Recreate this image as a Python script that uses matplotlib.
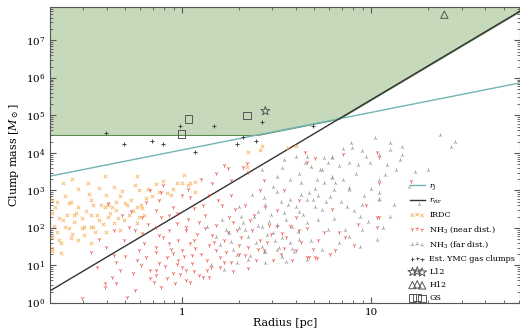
import numpy as np
import matplotlib
matplotlib.use("Agg")
import matplotlib.pyplot as plt
from matplotlib.ticker import FixedLocator, LogLocator, NullFormatter

#---------------------------------------------------------------------#
# donnees (log10 R [pc], log10 M [Msun])
irdc_logr = [-0.41, -0.24, -0.63, -0.55, -0.44, -0.40, -0.32, -0.23, -0.14, -0.16,
             -0.08, -0.03, 0.03, -0.69, -0.66, -0.60, -0.55, -0.47, -0.39, -0.35,
             -0.30, -0.24, -0.21, -0.69, -0.65, -0.61, -0.56, -0.53, -0.48, -0.44,
             -0.38, -0.34, -0.28, -0.62, -0.60, -0.53, -0.48, -0.46, -0.40, -0.36,
             -0.69, -0.65, -0.59, -0.55, -0.69, -0.69, -0.64, -0.59, -0.48, -0.41,
             -0.35, -0.22, -0.63, -0.57, -0.52, -0.47, -0.33, -0.24, -0.23, -0.64,
             -0.48, 0.00, 0.04, 0.07, -0.06, 0.07, 0.35, 0.41, 0.56, 0.42,
             0.60, 0.34, -0.67, -0.62, -0.57, -0.51, -0.49, -0.45, -0.42, -0.37,
             -0.33, -0.31, -0.27, -0.26, -0.19, -0.18, -0.12, -0.10, -0.05, -0.68,
             -0.66, -0.58, -0.52, -0.43, -0.39, -0.29, -0.25, -0.20, 0.01, -0.36,
             -0.50, -0.58]
irdc_logm = [3.39, 3.39, 3.20, 3.04, 3.07, 2.88, 2.99, 3.01, 3.17, 2.85,
             2.93, 3.20, 3.15, 2.75, 2.69, 2.67, 2.56, 2.61, 2.61, 2.69,
             2.67, 2.56, 2.53, 2.40, 2.27, 2.35, 2.40, 2.27, 2.35, 2.21,
             2.40, 2.27, 2.35, 2.03, 2.00, 2.00, 2.03, 1.89, 1.89, 2.13,
             1.76, 1.68, 1.73, 1.68, 1.47, 1.39, 1.33, 2.69, 2.75, 2.56,
             2.48, 2.61, 2.21, 2.35, 2.03, 2.03, 1.95, 2.13, 2.29, 1.60,
             1.60, 3.20, 3.20, 3.23, 2.88, 2.96, 4.03, 4.08, 4.13, 4.19,
             4.19, 3.62, 2.55, 2.85, 2.15, 2.45, 2.90, 2.35, 2.10, 2.55,
             2.85, 2.20, 2.75, 2.45, 2.80, 3.05, 2.95, 3.25, 3.05, 2.05,
             1.90, 1.85, 1.80, 2.60, 2.30, 2.60, 3.15, 2.35, 3.40, 3.10,
             3.20, 3.30]

near_logr = [0.18, 0.24, 0.35, 0.16, 0.04, 0.00, 0.11, 0.06, -0.03, -0.11,
             -0.14, -0.07, 0.02, 0.09, 0.18, 0.25, -0.14, -0.07, 0.00, 0.07,
             0.14, -0.08, -0.02, 0.05, 0.13, 0.20, -0.14, -0.05, 0.02, 0.11,
             -0.17, -0.11, 0.35, 0.41, 0.53, 0.60, 0.67, 0.71, 0.81, 0.60,
             0.50, 0.41, 1.04, 1.03, 1.04, -0.40, -0.35, -0.41, -0.35, -0.41,
             -0.24, -0.19, -0.14, -0.26, -0.17, -0.12, -0.08, -0.05, -0.02, 0.02,
             0.05, 0.06, 0.02, -0.03, -0.07, -0.14, -0.21, -0.21, -0.12, -0.28,
             -0.39, -0.32, -0.53, -0.29, -0.15, -0.14, -0.04, 0.04, 0.00, 0.09,
             0.14, 0.13, 0.20, 0.22, 0.35, 0.66, 0.70, 0.22, 0.32, 0.34,
             0.65, 0.70, 0.85, 1.03, 1.04, 1.21, 0.66, 0.79, 1.03, 0.16,
             0.22, 0.29, 0.33, 0.26, 0.30, 0.43, 0.48, 0.54, 0.46, 0.38,
             0.33, 0.26, 0.21, 0.14, 0.26, 0.62, 0.72, 0.83, 0.91, 0.43,
             0.54, 0.62, -0.12, -0.17, -0.10, -0.23, -0.31, -0.36, -0.33, -0.25,
             -0.05, 0.03, 0.12, 0.08, 0.17, 0.23, 0.27, 0.31, 0.37, 0.39,
             0.45, 0.52, 0.57, 0.63, 0.69, 0.75, 0.78, -0.20, -0.25, -0.18,
             -0.10, -0.06, 0.01, 0.10, 0.15, 0.27, 0.30, -0.01, -0.09, -0.22,
             -0.30, -0.37, -0.45, -0.48, -0.44, -0.36, -0.27, -0.19, -0.11, 0.03,
             0.10, 0.19, 0.28, 0.36, 0.44, 0.50, 0.55, 0.66, 0.86, 0.93,
             0.97, 0.12, 0.04, -0.03, 0.06, 0.18, 0.24, 0.40, 0.47, 0.58]
near_logm = [3.47, 3.60, 3.49, 3.20, 2.83, 2.88, 2.61, 2.53, 2.40, 2.29,
             2.03, 1.95, 2.03, 2.16, 2.08, 2.29, 1.49, 1.60, 1.41, 1.47,
             1.55, 1.23, 1.15, 1.07, 1.15, 1.23, 0.88, 0.80, 0.61, 0.69,
             0.67, 0.43, 1.49, 1.68, 1.87, 1.41, 1.23, 1.20, 1.41, 2.29,
             2.48, 3.01, 2.29, 2.03, 3.20, 1.49, 1.09, 0.53, 0.53, 0.43,
             1.15, 1.23, 1.36, 0.80, 0.88, 1.07, 0.67, 1.33, 1.68, 0.88,
             1.28, 1.68, 1.95, 2.13, 2.35, 2.48, 2.29, 1.87, 1.81, 2.03,
             2.67, 2.35, 0.13, 0.16, 0.56, 0.75, 0.53, 0.56, 0.96, 0.75,
             0.69, 0.88, 0.96, 1.09, 0.93, 1.23, 1.23, 3.68, 3.63, 3.73,
             4.03, 3.87, 3.97, 4.03, 3.89, 3.25, 3.76, 2.51, 2.29, 1.81,
             1.68, 1.95, 1.28, 1.09, 1.55, 1.41, 1.15, 1.47, 2.08, 2.35,
             2.61, 2.88, 2.61, 2.88, 3.28, 1.95, 1.68, 1.89, 1.55, 3.28,
             3.01, 2.75, 2.75, 3.01, 3.15, 1.41, 1.68, 1.28, 0.88, 0.35,
             2.55, 2.25, 2.35, 1.85, 1.62, 1.35, 2.15, 1.75, 1.95, 1.15,
             1.62, 1.30, 2.05, 1.62, 1.45, 1.90, 1.30, 1.60, 1.95, 2.10,
             1.75, 1.45, 1.25, 1.30, 0.95, 0.85, 1.30, 0.78, 0.98, 1.00,
             1.25, 0.70, 0.95, 1.35, 1.70, 1.95, 2.45, 2.70, 2.95, 3.05,
             3.30, 2.75, 2.50, 2.20, 2.55, 2.05, 1.75, 2.00, 1.75, 2.10,
             2.60, 2.00, 1.60, 1.05, 0.85, 1.40, 1.90, 1.45, 1.85, 1.15]

far_logr = [0.89, 0.90, 1.02, 1.10, 1.16, 1.16, 1.04, 0.97, 0.79, 0.75,
            0.66, 0.60, 0.54, 1.36, 1.44, 1.42, 0.37, 0.43, 0.50, 0.57,
            0.63, 0.30, 0.40, 0.47, 0.54, 0.62, 0.32, 0.42, 0.50, 0.58,
            0.66, 0.35, 0.45, 0.53, 0.62, 0.42, 0.51, 0.59, 0.25, 0.21,
            0.13, 0.30, 0.48, 0.57, 0.50, 0.44, 0.53, 0.66, 0.74, 0.79,
            0.81, 0.88, 0.78, 0.67, 0.63, 0.57, 0.50, 0.42, 0.87, 0.74,
            0.60, 0.94, 0.95, 0.88, 0.83, 0.94, 1.03, 1.04, 1.10, 0.88,
            0.93, 0.99, 1.08, 1.13, 1.23, 0.73, 0.77, 0.79, 0.85, 0.80,
            0.88, 1.04, 1.04, 1.04, 0.95, 0.71, 0.79, 0.65, 0.68, 0.29,
            0.43, 0.35, 0.55, 0.44, 0.15, 0.22, 0.29, 0.69, 0.72, 0.76,
            0.20, 0.26, 0.33, 0.38, 0.44, 0.48, 0.55, 0.61, 0.64, 0.70,
            0.72, 0.77, 0.80, 0.84, 0.91, 0.96, 1.00, 1.07, 1.12, 1.15,
            1.20, 0.92, 0.83, 0.70, 0.56, 0.46, 0.39, 0.27, 0.36, 0.49,
            0.58, 0.68, 0.74, 0.86, 0.98, 1.06, 1.25, 1.30, 0.62, 0.52,
            0.40, 0.31, 0.23, 0.18, 0.53, 0.95, 1.10, 0.85, 0.75, 0.66]
far_logm = [4.27, 4.13, 4.40, 4.08, 4.16, 3.95, 3.95, 3.89, 3.89, 3.87,
            3.89, 3.89, 3.81, 4.48, 4.29, 4.16, 2.88, 2.80, 2.96, 2.75,
            2.88, 2.56, 2.43, 2.35, 2.40, 2.43, 2.13, 2.03, 2.08, 2.03,
            2.13, 1.76, 1.81, 1.73, 1.68, 1.49, 1.47, 1.36, 1.87, 2.21,
            2.03, 2.00, 1.87, 1.60, 1.41, 1.36, 1.23, 1.15, 3.55, 3.36,
            3.20, 3.01, 2.83, 2.93, 3.20, 3.28, 3.36, 3.55, 2.56, 2.48,
            2.56, 2.29, 1.95, 1.76, 1.60, 1.49, 1.68, 2.75, 2.29, 3.73,
            3.68, 3.73, 3.68, 3.55, 3.49, 3.55, 3.73, 3.87, 3.28, 3.01,
            3.07, 3.28, 2.93, 2.77, 2.61, 3.28, 3.33, 3.73, 3.63, 1.28,
            1.36, 1.15, 1.09, 1.07, 1.01, 0.88, 1.07, 2.75, 2.85, 2.70,
            1.55, 1.62, 1.95, 2.30, 2.62, 3.10, 2.20, 1.90, 2.35, 2.55,
            2.20, 1.95, 2.25, 2.70, 2.45, 2.85, 3.05, 3.40, 2.60, 3.80,
            3.10, 3.45, 3.65, 3.05, 2.60, 2.15, 1.60, 1.40, 1.25, 1.65,
            1.45, 1.65, 1.40, 1.95, 2.15, 2.00, 2.65, 3.55, 3.45, 2.70,
            2.05, 2.30, 1.95, 1.75, 3.60, 4.05, 4.25, 4.10, 3.20, 2.75]

ymc_logr = [-0.40, -0.31, -0.16, -0.10, -0.01, 0.07, 0.17, 0.29, 0.32, 0.39, 0.42, 0.69]
ymc_logm = [4.53, 4.24, 4.32, 4.24, 4.72, 4.03, 4.72, 4.24, 4.43, 4.32, 4.83, 4.72]

l12_r = [2.75]
l12_m = [1.3e5]
h12_r = [24.3]
h12_m = [4.8e7]
gs_r = [1.08, 0.99, 2.2]
gs_m = [8.0e4, 3.2e4, 1.0e5]

# relations M(R) : r_J ~ R, r_vir ~ R^3, plancher de masse
rj_coef = 1.2e4
rvir_coef = 263.0
mass_floor = 3.0e4

xmin, xmax = 0.2, 61.0
ymin, ymax = 1.0, 7.7e7
#---------------------------------------------------------------------#

plt.rcParams['font.family'] = ['DejaVu Serif']
plt.rcParams['mathtext.fontset'] = 'dejavuserif'

fig = plt.figure(figsize=(5.2, 3.33), dpi=100)
ax = fig.add_axes([0.096, 0.09, 0.904, 0.889])

r = np.logspace(np.log10(xmin), np.log10(xmax), 400)
m_rj = rj_coef * r
m_rvir = rvir_coef * r**3
lower = np.maximum(np.maximum(m_rj, m_rvir), mass_floor)

ax.fill_between(r, lower, ymax, facecolor='#c6dabb', edgecolor='#5f8a52', lw=0.8, zorder=1)
ax.plot(r, m_rj, color='#72b5b3', lw=1.0, label=r'$r_{\rm J}$', zorder=2)
ax.plot(r, m_rvir, color='#333333', lw=1.0, label=r'$r_{\rm vir}$', zorder=2)

ax.scatter(10**np.array(irdc_logr), 10**np.array(irdc_logm), marker='x', s=6, lw=0.7,
           color='#f4a23a', alpha=0.7, label='IRDC', zorder=3)
ax.scatter(10**np.array(near_logr), 10**np.array(near_logm), marker='1', s=9, lw=0.7,
           color='#e8453a', alpha=0.75, label=r'NH$_3$ (near dist.)', zorder=3)
ax.scatter(10**np.array(far_logr), 10**np.array(far_logm), marker='2', s=9, lw=0.7,
           color='#8c8c8c', alpha=0.75, label=r'NH$_3$ (far dist.)', zorder=3)
ax.scatter(10**np.array(ymc_logr), 10**np.array(ymc_logm), marker='+', s=6, lw=0.7,
           color='#444444', label='Est. YMC gas clumps', zorder=4)
ax.scatter(l12_r, l12_m, marker='*', s=45, facecolor='none', edgecolor='#555555',
           lw=0.7, label='L12', zorder=4)
ax.scatter(h12_r, h12_m, marker='^', s=28, facecolor='none', edgecolor='#555555',
           lw=0.7, label='H12', zorder=4)
ax.scatter(gs_r, gs_m, marker='s', s=30, facecolor='none', edgecolor='#555555',
           lw=0.7, label='GS', zorder=4)

ax.set_xscale('log')
ax.set_yscale('log')
ax.set_xlim(xmin, xmax)
ax.set_ylim(ymin, ymax)

ax.xaxis.set_major_locator(FixedLocator([1, 10]))
ax.set_xticklabels(['1', '10'])
ax.xaxis.set_minor_locator(LogLocator(base=10, subs=np.arange(2, 10)))
ax.xaxis.set_minor_formatter(NullFormatter())
ax.yaxis.set_major_locator(LogLocator(base=10, numticks=20))
ax.yaxis.set_minor_locator(LogLocator(base=10, subs=np.arange(2, 10), numticks=20))
ax.yaxis.set_minor_formatter(NullFormatter())

ax.tick_params(which='both', direction='in', top=True, right=True, labelsize=7.5,
               color='#555555')
ax.tick_params(which='major', length=4)
ax.tick_params(which='minor', length=2)
for sp in ax.spines.values():
    sp.set_color('#555555')

ax.set_xlabel('Radius [pc]', fontsize=8, labelpad=1)
ax.set_ylabel(r'Clump mass [$M_\odot$]', fontsize=8, labelpad=3)

leg = ax.legend(loc='upper left', bbox_to_anchor=(410 / 520, 1 - 182 / 333),
                bbox_transform=fig.transFigure, frameon=False, fontsize=5.8,
                scatterpoints=3, handlelength=1.8, handletextpad=0.6,
                labelspacing=0.62, borderpad=0, borderaxespad=0)

fig.savefig('out.png', dpi=100)
